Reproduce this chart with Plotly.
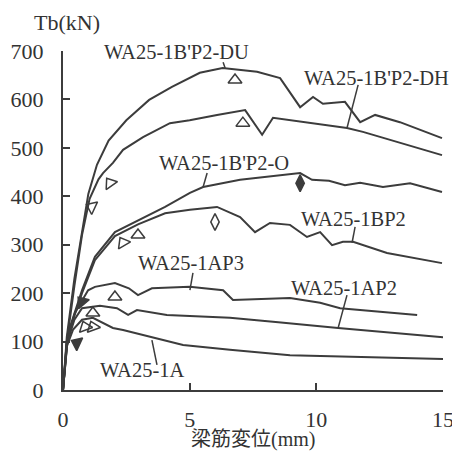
import plotly.graph_objects as go

# ---- data ----
DU_x = [0, 0.15, 0.45, 0.75, 1.0, 1.34, 1.8, 2.5, 3.4, 4.3, 5.4, 6.3, 7.66, 8.57, 9.36, 9.87, 10.26, 11.13, 11.73, 12.32, 13.3, 14.96]
DU_y = [0, 110, 230, 330, 405, 465, 515, 557, 599, 626, 655, 665, 657, 644, 584, 605, 591, 595, 553, 568, 553, 520]

DH_x = [0, 0.15, 0.45, 0.75, 1.05, 1.4, 1.58, 1.97, 2.37, 3.16, 4.22, 5.0, 6.08, 7.19, 7.86, 8.29, 11.21, 11.84, 14.96]
DH_y = [0, 100, 215, 320, 395, 435, 448, 469, 496, 522, 551, 557, 568, 578, 527, 562, 541, 533, 485]

O_x = [0, 0.2, 0.75, 1.26, 2.05, 2.96, 4.03, 5.01, 5.53, 6.99, 9.36, 9.83, 10.5, 11.13, 11.73, 12.63, 13.7, 14.96]
O_y = [0, 118, 206, 275, 326, 350, 378, 407, 419, 434, 448, 434, 432, 423, 428, 419, 427, 409]

BP2_x = [0, 0.2, 0.75, 1.26, 2.05, 2.96, 4.03, 5.01, 6.08, 6.99, 7.58, 8.17, 8.96, 9.63, 10.15, 10.62, 11.05, 11.45, 12.79, 14.96]
BP2_y = [0, 115, 200, 268, 318, 342, 365, 372, 378, 357, 326, 345, 341, 316, 326, 299, 306, 306, 283, 262]

AP3_x = [0, 0.15, 0.47, 0.75, 0.99, 1.26, 2.05, 2.6, 2.96, 3.51, 5.0, 6.32, 6.71, 8.96, 10.15, 10.94, 13.98]
AP3_y = [0, 100, 159, 186, 206, 213, 221, 210, 196, 210, 213, 206, 186, 190, 180, 169, 155]

AP2_x = [0, 0.15, 0.45, 0.75, 1.46, 2.13, 2.57, 2.92, 4.1, 6.59, 8.5, 10.86, 15.0]
AP2_y = [0, 95, 145, 169, 174, 169, 155, 165, 155, 149, 140, 128, 109]

A_x = [0, 0.15, 0.4, 0.75, 1.18, 1.97, 2.37, 3.43, 4.74, 6.59, 8.96, 15.0]
A_y = [0, 90, 125, 145, 149, 128, 124, 110, 93, 83, 72, 64]

# event markers
mk_x = [6.79, 7.1, 1.14, 1.86, 9.36, 6.0, 2.37, 2.96, 2.05, 0.75, 0.87, 1.18, 1.18, 0.55]
mk_y = [640, 551, 378, 427, 427, 347, 304, 320, 192, 182, 130, 130, 159, 97]
mk_sym = ["triangle-up-open", "triangle-up-open", "triangle-left-open", "triangle-up-open",
          "diamond-tall", "diamond-tall-open", "triangle-up-open", "triangle-up-open",
          "triangle-up-open", "triangle-up", "triangle-up-open", "triangle-up-open",
          "triangle-up-open", "triangle-left"]
mk_ang = [0, 0, 25, -35, 0, 0, -30, 0, 0, -40, -20, -20, 0, 25]

# labels: text, text position, leader start, leader end
labels = ["WA25-1B'P2-DU", "WA25-1B'P2-DH", "WA25-1B'P2-O", "WA25-1BP2",
          "WA25-1AP3", "WA25-1AP2", "WA25-1A"]
lab_x = [4.47, 12.36, 6.36, 11.45, 5.05, 11.09, 3.13]
lab_y = [698, 644, 469, 353, 262, 211, 41]
lead_x0 = [6.32, 11.65, 5.69, 11.53, 5.13, 11.21, 3.51]
lead_y0 = [677, 630, 448, 337, 242, 196, 103]
lead_x1 = [6.4, 11.21, 5.53, 11.41, 5.01, 10.86, 3.71]
lead_y1 = [665, 541, 419, 304, 206, 128, 52]

x_ticks = [0, 5, 10, 15]
y_ticks = [0, 100, 200, 300, 400, 500, 600, 700]

INK = "#3c3c3c"
SERIF = "Liberation Serif, Times New Roman, serif"

fig = go.Figure()
for xs, ys in [(DU_x, DU_y), (DH_x, DH_y), (O_x, O_y), (BP2_x, BP2_y),
               (AP3_x, AP3_y), (AP2_x, AP2_y), (A_x, A_y)]:
    fig.add_trace(go.Scatter(x=xs, y=ys, mode="lines",
                             line=dict(color=INK, width=2), showlegend=False,
                             hoverinfo="skip"))

fig.add_trace(go.Scatter(x=mk_x, y=mk_y, mode="markers", showlegend=False,
                         marker=dict(symbol=mk_sym, angle=mk_ang, size=12,
                                     color=INK, line=dict(color=INK, width=1.5)),
                         cliponaxis=False))

for i in range(len(labels)):
    fig.add_shape(type="line", x0=lead_x0[i], y0=lead_y0[i], x1=lead_x1[i], y1=lead_y1[i],
                  line=dict(color=INK, width=1.5), layer="below")
    fig.add_annotation(x=lab_x[i], y=lab_y[i], text=labels[i], showarrow=False,
                       font=dict(family=SERIF, size=20.5, color="#333"),
                       xanchor="center", yanchor="middle")

fig.add_annotation(xref="paper", yref="paper", x=0.01, y=1.085, text="Tb(kN)",
                   showarrow=False, font=dict(family=SERIF, size=22, color="#333"),
                   xanchor="center", yanchor="middle")
fig.add_annotation(xref="paper", yref="paper", x=0.5, y=-0.145, text="梁筋変位(mm)",
                   showarrow=False,
                   font=dict(family="Liberation Serif, Noto Sans CJK JP", size=20, color="#333"),
                   xanchor="center", yanchor="middle")

fig.update_xaxes(range=[0, 15], tickvals=x_ticks, ticks="inside", ticklen=7, tickwidth=2,
                 tickcolor=INK, showline=True, linewidth=2, linecolor=INK, automargin=False,
                 showgrid=False, zeroline=False, ticklabelstandoff=9,
                 ticklabeloverflow="allow",
                 tickfont=dict(family=SERIF, size=22, color="#333"))
fig.update_yaxes(range=[0, 700], tickvals=y_ticks, ticks="inside", ticklen=7, tickwidth=2,
                 tickcolor=INK, showline=True, linewidth=2, linecolor=INK, automargin=False,
                 showgrid=False, zeroline=False, ticklabelstandoff=13,
                 ticklabeloverflow="allow",
                 tickfont=dict(family=SERIF, size=22, color="#333"))

# page body has an 8px margin, so the figure is offset by 8px; margins compensate
fig.update_layout(width=452, height=445, margin=dict(l=55, r=17, t=43, b=63),
                  paper_bgcolor="white", plot_bgcolor="white")
fig.write_html("out.html")
